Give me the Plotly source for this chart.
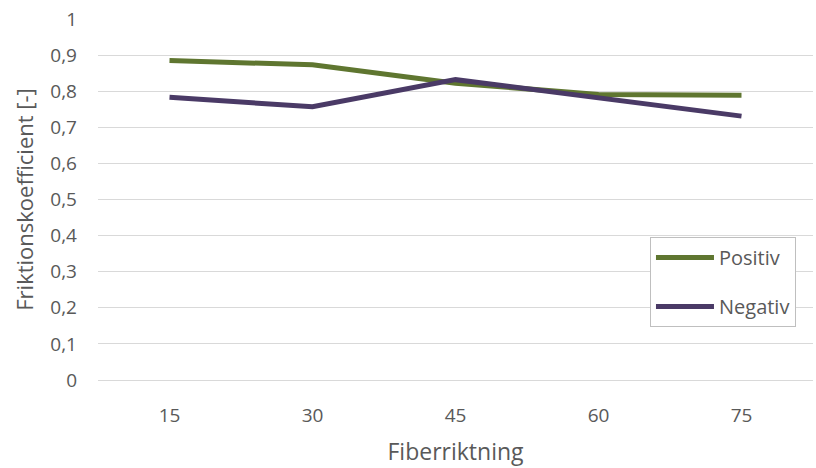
import plotly.graph_objects as go

categories = ["15", "30", "45", "60", "75"]
positiv = [0.885, 0.873, 0.822, 0.791, 0.789]
negativ = [0.783, 0.757, 0.832, 0.780, 0.731]
y_tickvals = [0, 0.1, 0.2, 0.3, 0.4, 0.5, 0.6, 0.7, 0.8, 0.9, 1.0]
y_ticktext = ["0", "0,1", "0,2", "0,3", "0,4", "0,5", "0,6", "0,7", "0,8", "0,9", "1"]

font_family = "Open Sans, Liberation Sans, sans-serif"
text_color = "#595959"

fig = go.Figure()
fig.add_trace(go.Scatter(x=categories, y=positiv, mode="lines", name="Positiv",
                         line=dict(color="#5f7630", width=5), legendgroup="a"))
fig.add_trace(go.Scatter(x=categories, y=negativ, mode="lines", name="Negativ",
                         line=dict(color="#4a3a66", width=5), legendgroup="b"))

fig.update_layout(
    width=816, height=468,
    margin=dict(l=98, r=3, t=19, b=88),
    paper_bgcolor="white", plot_bgcolor="white",
    font=dict(family=font_family, size=19, color=text_color),
    showlegend=True,
    legend=dict(x=0.772, y=0.396, xanchor="left", yanchor="top",
                bordercolor="#bfbfbf", borderwidth=1, bgcolor="white",
                font=dict(size=20, color=text_color),
                traceorder="grouped", tracegroupgap=20, itemwidth=58),
    xaxis=dict(type="category", range=[-0.5, 4.5], showgrid=False, showline=True,
               linecolor="#d9d9d9", linewidth=1, ticks="", ticklabelstandoff=18,
               title=dict(text="Fiberriktning", font=dict(size=23), standoff=17),
               tickfont=dict(size=19, color=text_color)),
    yaxis=dict(range=[0, 1.0], tickvals=y_tickvals, ticktext=y_ticktext,
               showgrid=True, gridcolor="#d9d9d9", gridwidth=1, zeroline=False,
               ticks="", ticklabelstandoff=20,
               title=dict(text="Friktionskoefficient [-]", font=dict(size=22), standoff=10),
               tickfont=dict(size=19, color=text_color)),
)

fig.write_html("out.html")
